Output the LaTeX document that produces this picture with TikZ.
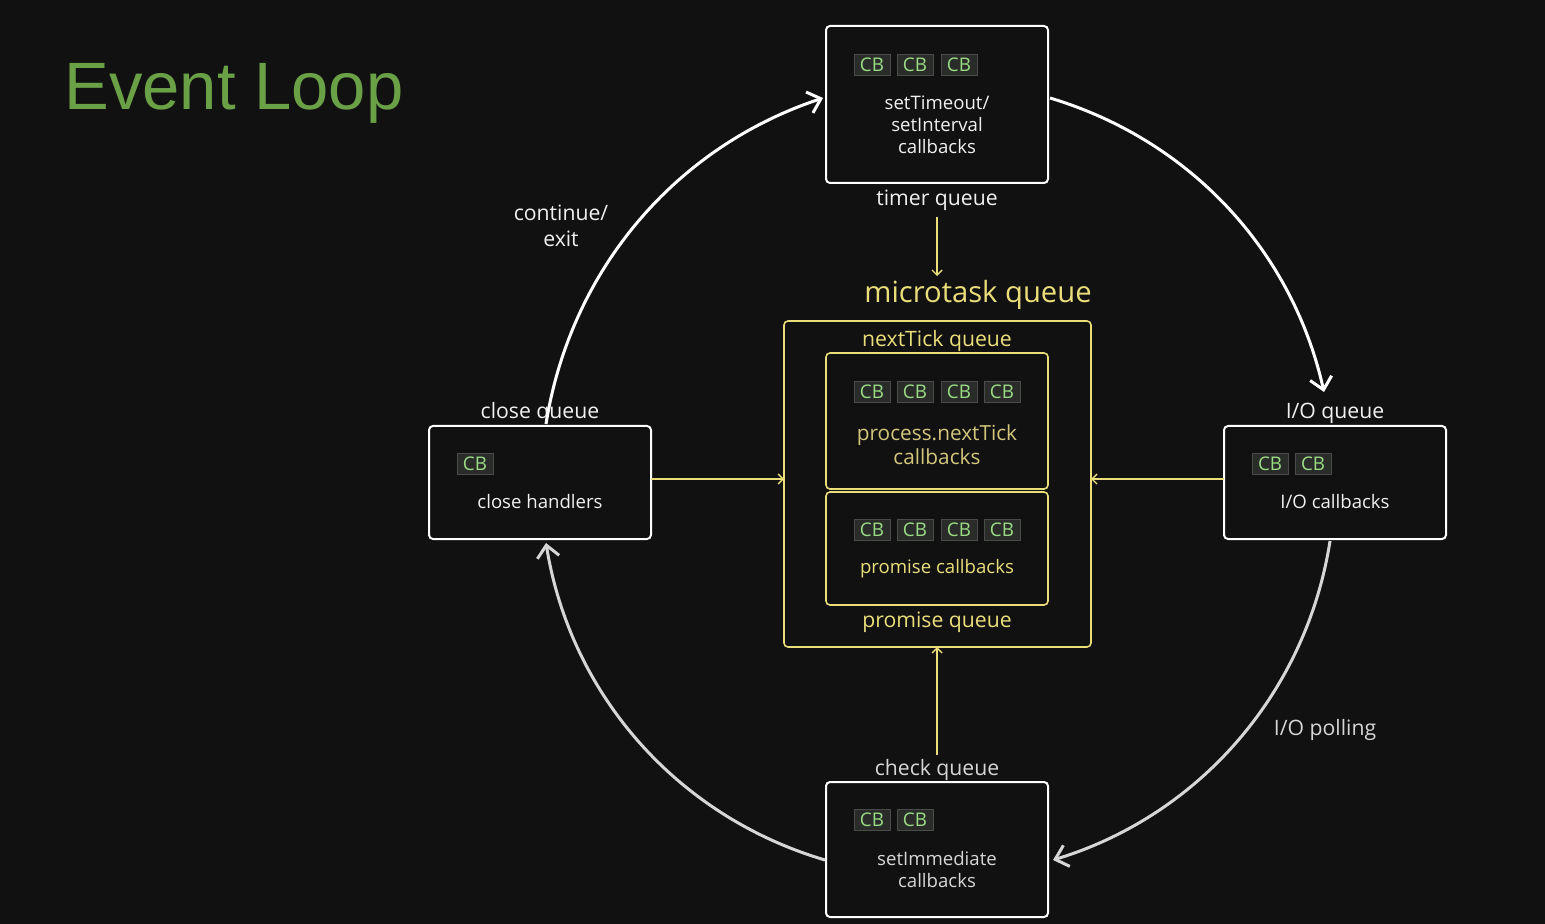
\documentclass[tikz,border=0pt]{standalone}
\usepackage{fontspec}
\setmainfont{Open Sans}
\newfontfamily\titlefont{Liberation Sans}
\usetikzlibrary{arrows.meta}
\definecolor{bg}{HTML}{111111}
\definecolor{titlegreen}{HTML}{6AA046}
\definecolor{chipfill}{HTML}{2A2C2A}
\definecolor{chipdraw}{HTML}{4A4C4A}
\definecolor{chiptext}{HTML}{9ADC84}
\definecolor{yel}{HTML}{EADE7A}
\definecolor{yelmuted}{HTML}{D2C67C}
\definecolor{txt}{HTML}{F0F0F0}
\definecolor{txtdim}{HTML}{D6D6D6}
\begin{document}
\begin{tikzpicture}[x=0.5pt,y=-0.5pt,
  qbox/.style={draw=white, line width=1pt, rounded corners=2pt, fill=bg, minimum width=111pt, inner sep=0pt, outer sep=0pt},
  ybox/.style={draw=yel, line width=0.8pt, rounded corners=2pt, fill=bg, inner sep=0pt, outer sep=0pt},
  cb/.style={draw=chipdraw, line width=0.5pt, fill=chipfill, text=chiptext, font=\fontsize{9.4}{10}\selectfont, minimum width=18pt, minimum height=10.5pt, inner sep=0pt},
  boxtext/.style={text=txt, font=\fontsize{9.3}{11}\selectfont, align=center, inner sep=0pt},
  qlabel/.style={text=txt, font=\fontsize{10.6}{12}\selectfont, align=center, inner sep=0pt},
  ylabel/.style={text=yel, font=\fontsize{10.6}{12}\selectfont, inner sep=0pt},
  loop/.style={draw=white, line width=1.5pt, -{Straight Barb[length=6pt,width=11pt,line width=1.5pt]}},
  yarrow/.style={draw=yel, line width=0.7pt, -{Straight Barb[length=2.5pt,width=5pt,line width=0.7pt]}}
]
\fill[bg] (0,0) rectangle (1545,924);
\useasboundingbox (0,0) rectangle (1545,924);

% title
\node[anchor=base west, text=titlegreen, font=\titlefont\fontsize{33.5}{36}\selectfont, inner sep=0pt] (title) at (64,110) {Event Loop};

% microtask container
\node[ybox, minimum width=153.5pt, minimum height=163pt] (micro) at (937.5,484) {};
\node[ybox, minimum width=111pt, minimum height=68pt] (tick) at (937,421) {};
\node[ybox, minimum width=111pt, minimum height=56.5pt] (prom) at (937,548.5) {};
\node[text=yel, font=\fontsize{14.6}{16}\selectfont, inner sep=0pt] (mq) at (978,295) {microtask queue};
\node[ylabel] (ntq) at (937,341) {nextTick queue};
\node[ylabel] (pq) at (937,622) {promise queue};
\foreach \i/\x in {1/872,2/915,3/959,4/1002}{
  \node[cb] (n\i) at (\x,392) {CB};
  \node[cb] (p\i) at (\x,530) {CB};
}
\node[boxtext, text=yelmuted, font=\fontsize{10.4}{12}\selectfont] (ntext) at (937,445) {process.nextTick\\callbacks};
\node[boxtext, text=yel] (ptext) at (937,569) {promise callbacks};

% timer queue
\node[qbox, minimum height=78.5pt] (timer) at (937,104.5) {};
\foreach \i/\x in {1/872,2/915,3/959}{\node[cb] (t\i) at (\x,65) {CB};}
\node[boxtext] (ttext) at (937,125) {setTimeout/\\setInterval\\callbacks};
\node[qlabel] (tq) at (937,200) {timer queue};

% close queue
\node[qbox, minimum height=56.5pt] (close) at (540,482.5) {};
\node[cb] (c1) at (475,464) {CB};
\node[boxtext] (ctext) at (540,502) {close handlers};
\node[qlabel] (clq) at (540,413) {close queue};

% I/O queue
\node[qbox, minimum height=56.5pt] (io) at (1335,482.5) {};
\node[cb] (i1) at (1270,464) {CB};
\node[cb] (i2) at (1313,464) {CB};
\node[boxtext] (itext) at (1335,502) {I/O callbacks};
\node[qlabel] (ioq) at (1335,413) {I/O queue};

% check queue
\node[qbox, minimum height=67.5pt] (check) at (937,849.5) {};
\node[cb] (k1) at (872,820) {CB};
\node[cb] (k2) at (915,820) {CB};
\node[boxtext, text=txtdim] (ktext) at (937,870) {setImmediate\\callbacks};
\node[qlabel, text=txtdim] (chq) at (937,770) {check queue};

% other labels
\node[qlabel, font=\fontsize{10.6}{13}\selectfont] (cont) at (561,226) {continue/\\exit};
\node[qlabel, text=txtdim] (poll) at (1325,730) {I/O polling};

% loop arrows
\coordinate (a1s) at (546,424);
\coordinate (a1e) at (823,98);
\coordinate (a2s) at (1050,98);
\coordinate (a2e) at (1324,392);
\coordinate (a3s) at (1330,541);
\coordinate (a3e) at (1053,860);
\coordinate (a4s) at (825,860);
\coordinate (a4e) at (546,543);
\draw[loop] (a1s) to[bend left=31.3, looseness=0.93] (a1e);
\draw[loop] (a2s) to[bend left=30.3, looseness=0.93] (a2e);
\draw[loop, draw=txtdim] (a3s) to[bend left=32.1, looseness=0.93] (a3e);
\draw[loop, draw=txtdim] (a4s) to[bend left=32.2, looseness=0.93] (a4e);

% yellow arrows
\draw[yarrow] (close.east |- 0,479) -- (micro.west |- 0,479);
\draw[yarrow] (io.west |- 0,479) -- (micro.east |- 0,479);
\draw[yarrow] ([yshift=-3pt]tq.south) -- (tq.south |- 0,276);
\draw[yarrow] ([yshift=2pt]chq.north) -- (chq.north |- micro.south);
\end{tikzpicture}
\end{document}
